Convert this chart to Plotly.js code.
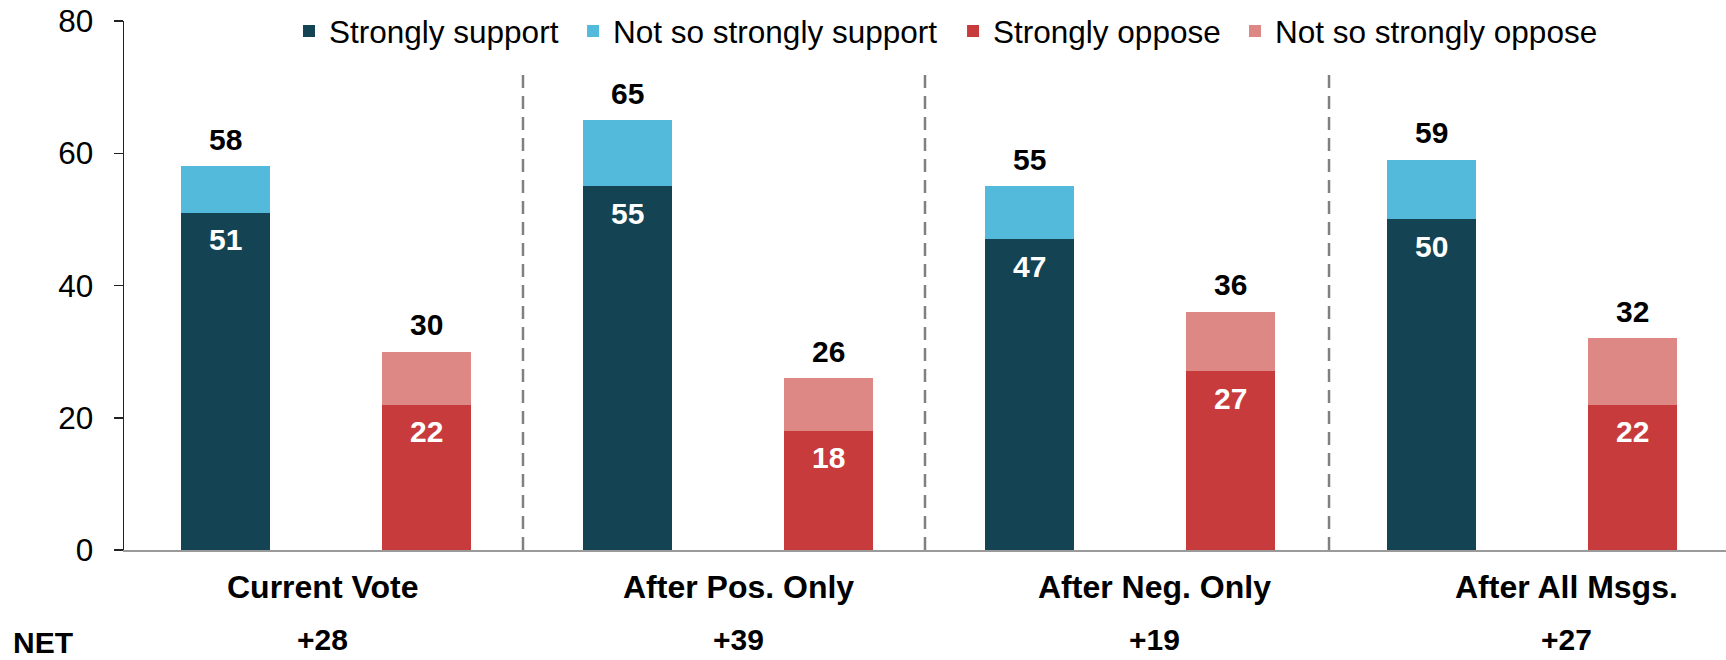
<!DOCTYPE html>
<html>
<head>
<meta charset="utf-8">
<script src="https://cdn.plot.ly/plotly-3.0.1.min.js"></script>
<style>
  html, body { margin: 0; padding: 0; background: #ffffff; }
  #chart { width: 1726px; height: 660px; }
</style>
</head>
<body>
<div id="chart"></div>
<script>
// ---- Data ----
const categories = ["Current Vote", "After Pos. Only", "After Neg. Only", "After All Msgs."];
const supportStrong = [51, 55, 47, 50];
const supportTotal  = [58, 65, 55, 59];
const opposeStrong  = [22, 18, 27, 22];
const opposeTotal   = [30, 26, 36, 32];
const netLabels     = ["+28", "+39", "+19", "+27"];
const seriesNames   = ["Strongly support", "Not so strongly support", "Strongly oppose", "Not so strongly oppose"];
const yTicks        = [0, 20, 40, 60, 80];

// ---- Style ----
const COLORS = ["#144453", "#54BADC", "#C83B3C", "#DE8886"];
const FONT = "Liberation Sans, Arial, sans-serif";
const FS = 30;        // data labels / NET row
const FS_CAT = 32;    // group labels
const FS_AX = 31.5;   // ticks and legend

// positions: support bar of group i at 2i, oppose bar at 2i+1
const supX = categories.map((_, i) => 2 * i);
const oppX = categories.map((_, i) => 2 * i + 1);
const supportWeak = supportTotal.map((t, i) => t - supportStrong[i]);
const opposeWeak  = opposeTotal.map((t, i) => t - opposeStrong[i]);
const BW = 0.443;

const legendIds = ["legend", "legend2", "legend3", "legend4"];
const traces = [
  { type: "bar", name: seriesNames[0], x: supX, y: supportStrong, width: BW,
    marker: { color: COLORS[0] }, hoverinfo: "skip", legend: legendIds[0] },
  { type: "bar", name: seriesNames[1], x: supX, y: supportWeak, width: BW,
    marker: { color: COLORS[1] }, hoverinfo: "skip", legend: legendIds[1] },
  { type: "bar", name: seriesNames[2], x: oppX, y: opposeStrong, width: BW,
    marker: { color: COLORS[2] }, hoverinfo: "skip", legend: legendIds[2] },
  { type: "bar", name: seriesNames[3], x: oppX, y: opposeWeak, width: BW,
    marker: { color: COLORS[3] }, hoverinfo: "skip", legend: legendIds[3] }
];

const annotations = [];
const boldFont = (c, s) => ({ family: FONT, size: s || FS, color: c, weight: "bold" });
categories.forEach((cat, i) => {
  // inner labels
  annotations.push({ x: supX[i], y: supportStrong[i], xref: "x", yref: "y", text: "<b>" + supportStrong[i] + "</b>",
    showarrow: false, yanchor: "middle", yshift: -27, font: boldFont("#ffffff") });
  annotations.push({ x: oppX[i], y: opposeStrong[i], xref: "x", yref: "y", text: "<b>" + opposeStrong[i] + "</b>",
    showarrow: false, yanchor: "middle", yshift: -27, font: boldFont("#ffffff") });
  // totals
  annotations.push({ x: supX[i], y: supportTotal[i], xref: "x", yref: "y", text: "<b>" + supportTotal[i] + "</b>",
    showarrow: false, yanchor: "middle", yshift: 27, font: boldFont("#000000") });
  annotations.push({ x: oppX[i], y: opposeTotal[i], xref: "x", yref: "y", text: "<b>" + opposeTotal[i] + "</b>",
    showarrow: false, yanchor: "middle", yshift: 27, font: boldFont("#000000") });
});

// group labels and NET row (centred on each group, slightly right-shifted as in the reference)
const groupLabelX = [0.485, 2.55, 4.62, 6.67];
categories.forEach((cat, i) => {
  annotations.push({ x: groupLabelX[i], y: 0, xref: "x", yref: "paper", text: "<b>" + cat + "</b>",
    showarrow: false, yanchor: "middle", yshift: -37, font: boldFont("#000000", FS_CAT) });
  annotations.push({ x: groupLabelX[i], y: 0, xref: "x", yref: "paper", text: "<b>" + netLabels[i] + "</b>",
    showarrow: false, yanchor: "middle", yshift: -89, font: boldFont("#000000") });
});
annotations.push({ x: 0, y: 0, xref: "paper", yref: "paper", text: "<b>NET</b>",
  showarrow: false, xanchor: "center", yanchor: "middle", xshift: -81, yshift: -92, font: boldFont("#000000") });

// dashed dividers between groups
const dividerX = [1.48, 3.48, 5.49];
const dividerTop = 72.4;
const shapes = dividerX.map(x => ({
  type: "line", xref: "x", yref: "y", x0: x, x1: x, y0: 0, y1: dividerTop,
  line: { color: "#808080", width: 2.5, dash: "13px,8px" }
}));

// one legend box per entry, laid out in a row like the reference
const legendXs = [0.103, 0.2803, 0.5175, 0.6935];
const legendBase = () => ({
  orientation: "h", xanchor: "left", y: 0.981, yanchor: "middle",
  bgcolor: "rgba(0,0,0,0)", font: { family: FONT, size: FS_AX, color: "#000000" },
  itemclick: false, itemdoubleclick: false
});

const layout = {
  width: 1726, height: 660,
  margin: { l: 124, r: 0, t: 21, b: 110, pad: 0 },
  paper_bgcolor: "#ffffff", plot_bgcolor: "#ffffff",
  font: { family: FONT, size: FS, color: "#000000" },
  barmode: "stack",
  showlegend: true,
  xaxis: {
    range: [-0.505, 7.465], showticklabels: false, ticks: "", showgrid: false, zeroline: false,
    showline: true, linecolor: "#9a9a9a", linewidth: 2, fixedrange: true
  },
  yaxis: {
    range: [0, 80], tickvals: yTicks, ticktext: yTicks.map(String), ticks: "outside", ticklen: 9,
    tickcolor: "#222222", tickwidth: 1.5, showgrid: false, zeroline: false, showline: true,
    linecolor: "#222222", linewidth: 1.5, ticklabelstandoff: 14,
    tickfont: { family: FONT, size: FS_AX, color: "#000000" }, fixedrange: true
  },
  annotations: annotations,
  shapes: shapes
};
legendIds.forEach((id, i) => { layout[id] = Object.assign(legendBase(), { x: legendXs[i] }); });

Plotly.newPlot("chart", traces, layout, { displayModeBar: false, staticPlot: true });
</script>
</body>
</html>
